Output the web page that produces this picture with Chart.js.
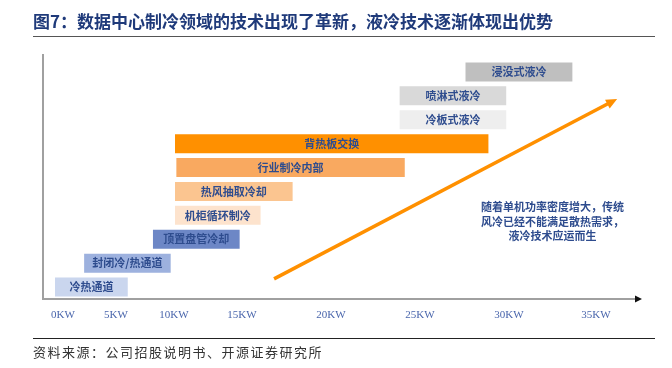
<!DOCTYPE html>
<html><head><meta charset="utf-8">
<script src="https://cdn.jsdelivr.net/npm/chart.js@4/dist/chart.umd.min.js"></script>
<style>
html,body{margin:0;padding:0;background:#fff;}
#wrap{position:relative;width:672px;height:368px;overflow:hidden;}
#title{position:absolute;left:33px;top:10px;line-height:21px;font-weight:bold;font-size:17px;font-family:"Noto Sans CJK SC";color:#1F3A7A;white-space:nowrap;}
#tline{position:absolute;left:33px;top:36px;width:622px;height:0;border-top:1.5px solid #555;}
#sline{position:absolute;left:33px;top:338px;width:622px;height:0;border-top:1px solid #222;}
#source{position:absolute;left:33px;top:344px;line-height:16px;font-size:13px;font-family:"Noto Sans CJK SC";letter-spacing:1.5px;color:#333;white-space:nowrap;}
canvas{position:absolute;left:0;top:0;}
</style></head>
<body>
<div id="wrap">
<canvas id="c" width="672" height="368"></canvas>
<div id="title">图7：数据中心制冷领域的技术出现了革新，液冷技术逐渐体现出优势</div>
<div id="tline"></div>
<div id="sline"></div>
<div id="source">资料来源：公司招股说明书、开源证券研究所</div>
</div>
<script>
// ---- data ----
const categories = ['浸没式液冷','喷淋式液冷','冷板式液冷','背热板交换','行业制冷内部','热风抽取冷却','机柜循环制冷','顶置盘管冷却','封闭冷/热通道','冷热通道'];
const rangeStart = [27.5, 23.8, 23.8, 10.0, 10.1, 10.0, 10.0, 8.1, 1.9, -0.9];
const rangeEnd   = [33.7, 29.9, 29.9, 28.9, 24.2, 17.9, 16.1, 14.9, 9.8, 6.1];
const tickValues = [0, 5, 10, 15, 20, 25, 30, 35];
const tickLabels = ['0KW','5KW','10KW','15KW','20KW','25KW','30KW','35KW'];
const noteLines = ['随着单机功率密度增大，传统','风冷已经不能满足散热需求，','液冷技术应运而生'];
const trendFrom = {x: 16.8, y: 8.66};
const trendTo = {x: 36.2, y: 1.13};
const noteAt = {x: 32.5, y: 5.65};

// ---- styles / axis layout ----
const barColors = ['#BFBFBF','#D9D9D9','#EEEEEE','#FF9000','#F9A960','#FBC590','#FDE3CD','#6D87C6','#9DB1DE','#CAD6EE'];
const axisBreaks = [-2, 0, 5, 10, 15, 20, 25, 30, 35, 37.5];
const segmentWidths = [20, 53, 58, 68, 89, 89, 89, 87, 44];
const textBlue = '#2E4C8E';

class PiecewiseScale extends Chart.LinearScale {
  _frac(v) {
    const total = segmentWidths.reduce((s, x) => s + x, 0);
    let acc = 0;
    for (let i = 0; i < segmentWidths.length; i++) {
      if (v <= axisBreaks[i + 1] || i === segmentWidths.length - 1) {
        return (acc + (v - axisBreaks[i]) / (axisBreaks[i + 1] - axisBreaks[i]) * segmentWidths[i]) / total;
      }
      acc += segmentWidths[i];
    }
  }
  getPixelForValue(v) {
    if (v === null || v === undefined || isNaN(v)) return NaN;
    return this.getPixelForDecimal(this._frac(v));
  }
  getValueForPixel(p) {
    const total = segmentWidths.reduce((s, x) => s + x, 0);
    const d = this.getDecimalForPixel(p) * total;
    let acc = 0;
    for (let i = 0; i < segmentWidths.length; i++) {
      if (d <= acc + segmentWidths[i] || i === segmentWidths.length - 1) {
        return axisBreaks[i] + (d - acc) / segmentWidths[i] * (axisBreaks[i + 1] - axisBreaks[i]);
      }
      acc += segmentWidths[i];
    }
  }
}
PiecewiseScale.id = 'piecewise';
PiecewiseScale.defaults = Chart.LinearScale.defaults;
Chart.register(PiecewiseScale);

const decor = {
  id: 'decor',
  beforeDatasetsDraw(chart) {
    const {ctx, chartArea: a} = chart;
    ctx.save();
    ctx.strokeStyle = '#A0A0A0';
    ctx.lineWidth = 2;
    ctx.beginPath();
    ctx.moveTo(a.left, 54);
    ctx.lineTo(a.left, a.bottom);
    ctx.lineTo(a.right - 4, a.bottom);
    ctx.stroke();
    ctx.fillStyle = '#111';
    ctx.beginPath();
    ctx.moveTo(a.right + 2, a.bottom);
    ctx.lineTo(a.right - 5, a.bottom - 3.5);
    ctx.lineTo(a.right - 5, a.bottom + 3.5);
    ctx.closePath();
    ctx.fill();
    ctx.restore();
  },
  afterDatasetsDraw(chart) {
    const {ctx, scales: {x, y}} = chart;
    const meta = chart.getDatasetMeta(0);
    ctx.save();
    ctx.font = 'bold 11px "Noto Sans CJK SC"';
    ctx.fillStyle = textBlue;
    ctx.textAlign = 'center';
    ctx.textBaseline = 'middle';
    meta.data.forEach((bar, i) => {
      ctx.fillText(categories[i], (bar.x + bar.base) / 2, bar.y);
    });
    // trend arrow
    const x0 = x.getPixelForValue(trendFrom.x), y0 = y.getPixelForValue(trendFrom.y);
    const x1 = x.getPixelForValue(trendTo.x), y1 = y.getPixelForValue(trendTo.y);
    const ang = Math.atan2(y1 - y0, x1 - x0);
    const hl = 11, hw = 5;
    ctx.strokeStyle = '#FF9000';
    ctx.fillStyle = '#FF9000';
    ctx.lineWidth = 3.5;
    ctx.beginPath();
    ctx.moveTo(x0, y0);
    ctx.lineTo(x1 - Math.cos(ang) * hl * 0.8, y1 - Math.sin(ang) * hl * 0.8);
    ctx.stroke();
    ctx.beginPath();
    ctx.moveTo(x1, y1);
    ctx.lineTo(x1 - Math.cos(ang) * hl - Math.sin(ang) * hw, y1 - Math.sin(ang) * hl + Math.cos(ang) * hw);
    ctx.lineTo(x1 - Math.cos(ang) * hl + Math.sin(ang) * hw, y1 - Math.sin(ang) * hl - Math.cos(ang) * hw);
    ctx.closePath();
    ctx.fill();
    // note
    ctx.fillStyle = textBlue;
    ctx.font = 'bold 11px "Noto Sans CJK SC"';
    const nx = x.getPixelForValue(noteAt.x), ny = y.getPixelForValue(noteAt.y);
    noteLines.forEach((t, i) => ctx.fillText(t, nx, ny + i * 14.5));
    ctx.restore();
  }
};

new Chart(document.getElementById('c'), {
  type: 'bar',
  data: {
    labels: categories,
    datasets: [{
      data: categories.map((c, i) => [rangeStart[i], rangeEnd[i]]),
      backgroundColor: barColors,
      borderColor: 'rgba(255,255,255,0.7)',
      borderWidth: 1,
      borderSkipped: false,
      barPercentage: 0.88,
      categoryPercentage: 1.0
    }]
  },
  options: {
    indexAxis: 'y',
    responsive: false,
    animation: false,
    events: [],
    layout: {padding: {left: 43, right: 32, top: 60, bottom: 45}},
    plugins: {legend: {display: false}, tooltip: {enabled: false}, title: {display: false}},
    scales: {
      x: {
        type: 'piecewise',
        min: axisBreaks[0],
        max: axisBreaks[axisBreaks.length - 1],
        afterBuildTicks: (s) => { s.ticks = tickValues.map(v => ({value: v})); },
        afterFit: (s) => { s.height = 24; },
        grid: {display: false, drawTicks: false},
        border: {display: false},
        ticks: {
          autoSkip: false, maxRotation: 0, padding: 10,
          color: '#4A66AC',
          font: {family: '"Liberation Serif"', size: 11},
          callback: (v, i) => tickLabels[i]
        }
      },
      y: {display: false, offset: true, grid: {display: false}}
    }
  },
  plugins: [decor]
});
</script>
</body></html>
